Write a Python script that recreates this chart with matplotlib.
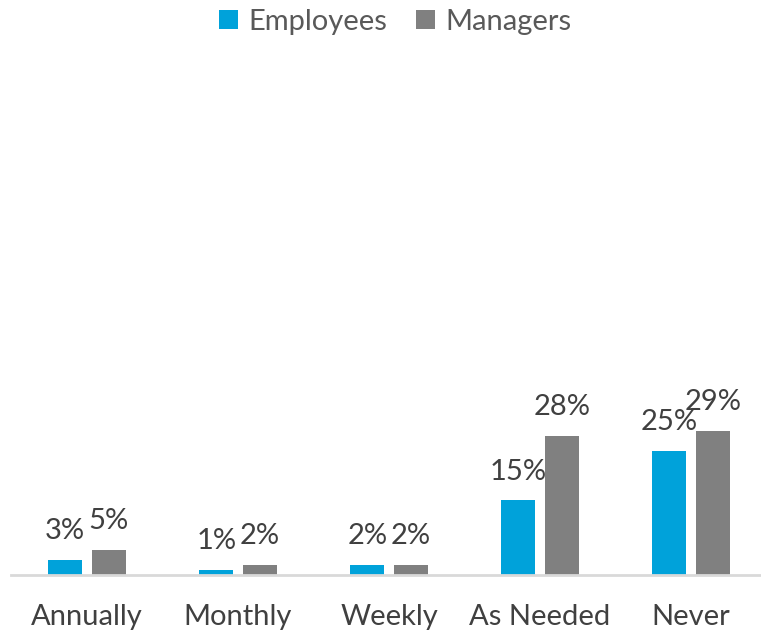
import numpy as np
import matplotlib.pyplot as plt

# chart data
categories = ["Annually", "Monthly", "Weekly", "As Needed", "Never"]
employees = [3, 1, 2, 15, 25]
managers = [5, 2, 2, 28, 29]

plot_colors = ["#00A2DA", "#808080"]
text_color = "#404040"

plt.rcParams['font.family'] = ['Lato', 'DejaVu Sans']

fig = plt.figure(figsize=(7.61, 6.31), dpi=100)
ax = fig.add_axes([11 / 761, 56 / 631, 750 / 761, 497 / 631])

x = np.arange(len(categories))
width = 0.225
offset = 0.144

bars_e = ax.bar(x - offset, employees, width, color=plot_colors[0], label="Employees")
bars_m = ax.bar(x + offset, managers, width, color=plot_colors[1], label="Managers")

# value labels above the bars
for bars, vals in [(bars_e, employees), (bars_m, managers)]:
    for b, v in zip(bars, vals):
        ax.annotate(f"{v}%", (b.get_x() + b.get_width() / 2, b.get_height()),
                    xytext=(0, 15), textcoords="offset points",
                    ha="center", va="baseline", fontsize=21, color=text_color)

ax.set_xlim(-0.503, 4.464)
ax.set_ylim(0, 100)
ax.set_xticks(x)
ax.set_xticklabels(categories, fontsize=21, color=text_color)
ax.tick_params(axis="x", length=0, pad=21)
ax.set_yticks([])

for s in ["top", "right", "left"]:
    ax.spines[s].set_visible(False)
ax.spines["bottom"].set_color("#D9D9D9")
ax.spines["bottom"].set_linewidth(2)

leg = fig.legend(loc="center", bbox_to_anchor=(395 / 761, 1 - 22 / 631), ncol=2,
                 frameon=False, fontsize=21, handlelength=0.65, handleheight=0.65,
                 handletextpad=0.35, columnspacing=1.0, labelcolor="#595959")

plt.savefig("out.png", dpi=100)
plt.close(fig)
